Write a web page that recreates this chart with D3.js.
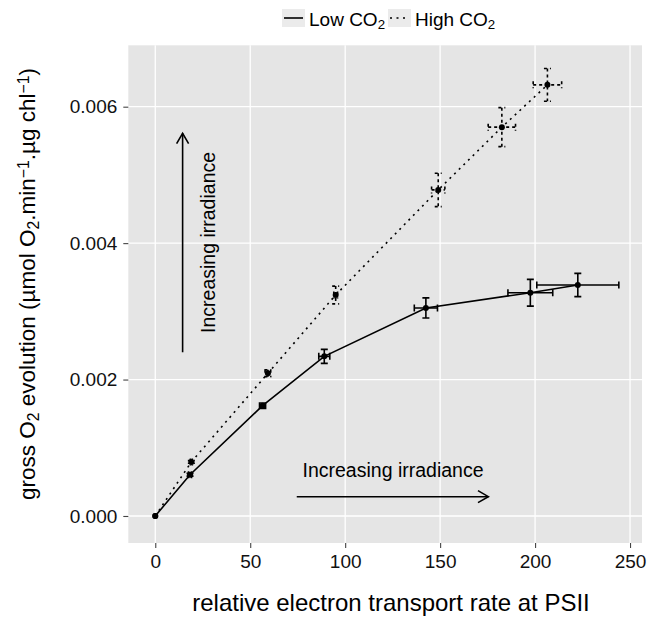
<!DOCTYPE html>
<html><head><meta charset="utf-8">
<script src="https://cdn.jsdelivr.net/npm/d3@7"></script>
<style>body{margin:0;background:#fff}svg{display:block;font-family:"Liberation Sans",Arial,sans-serif}</style>
</head><body><svg id="c" width="647" height="622"></svg>
<script>
// ---- data ----
const seriesNames = ["Low CO2", "High CO2"];
const lowX    = [0, 18.3, 56.5, 89, 142.5, 197.5, 222.5];
const lowY    = [0, 0.000605, 0.001617, 0.00234, 0.00305, 0.003273, 0.003386];
const lowXErr = [0, 0.8, 1.6, 2.9, 6.1, 11.8, 21.6];
const lowYErr = [0, 0.00002, 0.00004, 0.000103, 0.000147, 0.000196, 0.000171];
const highX    = [0, 19, 59.3, 95, 149, 182.5, 206.5];
const highY    = [0, 0.000792, 0.002092, 0.00324, 0.00478, 0.0057, 0.00632];
const highXErr = [0, 0.5, 1.5, 1, 3.5, 7.2, 7.5];
const highYErr = [0, 0.00002, 0.00005, 0.00013, 0.000245, 0.000286, 0.00024];
const xTicks = [0, 50, 100, 150, 200, 250];
const yTicks = [0, 0.002, 0.004, 0.006];
const annotText = "Increasing irradiance";

const svg = d3.select("#c");
const P = {l:128.3, r:642, t:45.3, b:543};
const x = d3.scaleLinear().domain([-14.2, 256.3]).range([P.l, P.r]);
const y = d3.scaleLinear().domain([-0.000396, 0.0069]).range([P.b, P.t]);

// panel
svg.append("rect").attr("x",P.l).attr("y",P.t).attr("width",P.r-P.l).attr("height",P.b-P.t).attr("fill","#e5e5e5");
const grid = svg.append("g");
xTicks.forEach(t=>grid.append("line").attr("x1",x(t)).attr("x2",x(t)).attr("y1",P.t).attr("y2",P.b).attr("stroke","#fff").attr("stroke-width",1.3));
yTicks.forEach(t=>grid.append("line").attr("y1",y(t)).attr("y2",y(t)).attr("x1",P.l).attr("x2",P.r).attr("stroke","#fff").attr("stroke-width",1.3));

// axes
const xa = svg.append("g").attr("transform",`translate(0,${P.b})`)
  .call(d3.axisBottom(x).tickValues(xTicks).tickSize(5).tickPadding(7).tickFormat(d3.format("d")));
const ya = svg.append("g").attr("transform",`translate(${P.l},0)`)
  .call(d3.axisLeft(y).tickValues(yTicks).tickSize(5).tickPadding(6).tickFormat(d3.format(".3f")));
[xa,ya].forEach(a=>{
  a.select(".domain").remove();
  a.selectAll(".tick line").attr("stroke","#444").attr("stroke-width",1.1);
  a.selectAll(".tick text").attr("fill","#111").style("font-size","19px").style("font-family","Liberation Sans, Arial, sans-serif");
});

// series
const dotted = "2 4.5";
const series = [
  {xs:lowX, ys:lowY, xe:lowXErr, ye:lowYErr, dash:null},
  {xs:highX, ys:highY, xe:highXErr, ye:highYErr, dash:dotted}
];
const cap = 3.5;
series.forEach(s=>{
  const pts = s.xs.map((v,i)=>({x:v,y:s.ys[i],xe:s.xe[i],ye:s.ye[i]}));
  const g = svg.append("g");
  g.append("path").datum(pts)
    .attr("d", d3.line().x(d=>x(d.x)).y(d=>y(d.y)))
    .attr("fill","none").attr("stroke","#000").attr("stroke-width",1.6)
    .attr("stroke-dasharray", s.dash);
  pts.filter(d=>d.xe>0||d.ye>0).forEach(d=>{
    const cx=x(d.x), cy=y(d.y);
    const p = d3.path();
    // vertical
    p.moveTo(cx, y(d.y+d.ye)); p.lineTo(cx, y(d.y-d.ye));
    p.moveTo(cx-cap, y(d.y+d.ye)); p.lineTo(cx+cap, y(d.y+d.ye));
    p.moveTo(cx-cap, y(d.y-d.ye)); p.lineTo(cx+cap, y(d.y-d.ye));
    // horizontal
    p.moveTo(x(d.x-d.xe), cy); p.lineTo(x(d.x+d.xe), cy);
    p.moveTo(x(d.x-d.xe), cy-cap); p.lineTo(x(d.x-d.xe), cy+cap);
    p.moveTo(x(d.x+d.xe), cy-cap); p.lineTo(x(d.x+d.xe), cy+cap);
    g.append("path").attr("d",p.toString()).attr("fill","none").attr("stroke","#000")
      .attr("stroke-width",1.6).attr("stroke-dasharray", s.dash ? "3 3" : null);
  });
  g.selectAll("circle").data(pts).join("circle")
    .attr("cx",d=>x(d.x)).attr("cy",d=>y(d.y)).attr("r",3).attr("fill","#000");
});

// annotations
function arrow(x1,y1,x2,y2){
  const g = svg.append("g").attr("stroke","#000").attr("stroke-width",1.6).attr("fill","none");
  g.append("line").attr("x1",x1).attr("y1",y1).attr("x2",x2).attr("y2",y2);
  const a = Math.atan2(y2-y1,x2-x1), L=12, w=Math.PI/6;
  const p = d3.path();
  p.moveTo(x2-L*Math.cos(a-w), y2-L*Math.sin(a-w)); p.lineTo(x2,y2); p.lineTo(x2-L*Math.cos(a+w), y2-L*Math.sin(a+w));
  g.append("path").attr("d",p.toString());
}
arrow(x(14.4), y(0.0024), x(14.4), y(0.00561));
arrow(x(74.5), y(0.000283), x(175.4), y(0.000283));
svg.append("text").attr("x",x(125.2)).attr("y",y(0.000576)).attr("text-anchor","middle")
  .style("font-size","19.5px").attr("fill","#000").text(annotText);
svg.append("text").attr("transform",`translate(${x(31.4)},${y(0.00401)}) rotate(-90)`).attr("text-anchor","middle")
  .style("font-size","19.5px").attr("fill","#000").text(annotText);

// axis titles
svg.append("text").attr("x",391).attr("y",611).attr("text-anchor","middle")
  .style("font-size","24px").attr("fill","#000").text("relative electron transport rate at PSII");
const yt = svg.append("text").attr("transform","translate(35,284) rotate(-90)").attr("text-anchor","middle")
  .style("font-size","22.5px").attr("fill","#000");
function seg(t, txt, kind){
  const ts = t.append("tspan").text(txt);
  if(kind==="sub"){ ts.attr("baseline-shift","-25%").style("font-size","70%"); }
  if(kind==="sup"){ ts.attr("baseline-shift","40%").style("font-size","70%"); }
}
seg(yt,"gross O"); seg(yt,"2","sub"); seg(yt," evolution (µmol O"); seg(yt,"2","sub");
seg(yt,".min"); seg(yt,"\u22121","sup"); seg(yt,".µg chl"); seg(yt,"\u22121","sup"); seg(yt,")");

// legend
const legX = [282, 388];
seriesNames.forEach((n,i)=>{
  const g = svg.append("g").attr("transform",`translate(${legX[i]},9)`);
  g.append("rect").attr("width",23).attr("height",18).attr("fill","#ebebeb");
  g.append("line").attr("x1",2).attr("x2",21).attr("y1",9).attr("y2",9).attr("stroke","#000").attr("stroke-width",1.6)
    .attr("stroke-dasharray", i===1?dotted:null);
  const t = g.append("text").attr("x",27).attr("y",17).style("font-size","19px").attr("fill","#000");
  const parts = n.split("2");
  seg(t, parts[0]+"");
  seg(t, "2", "sub");
});
</script></body></html>
